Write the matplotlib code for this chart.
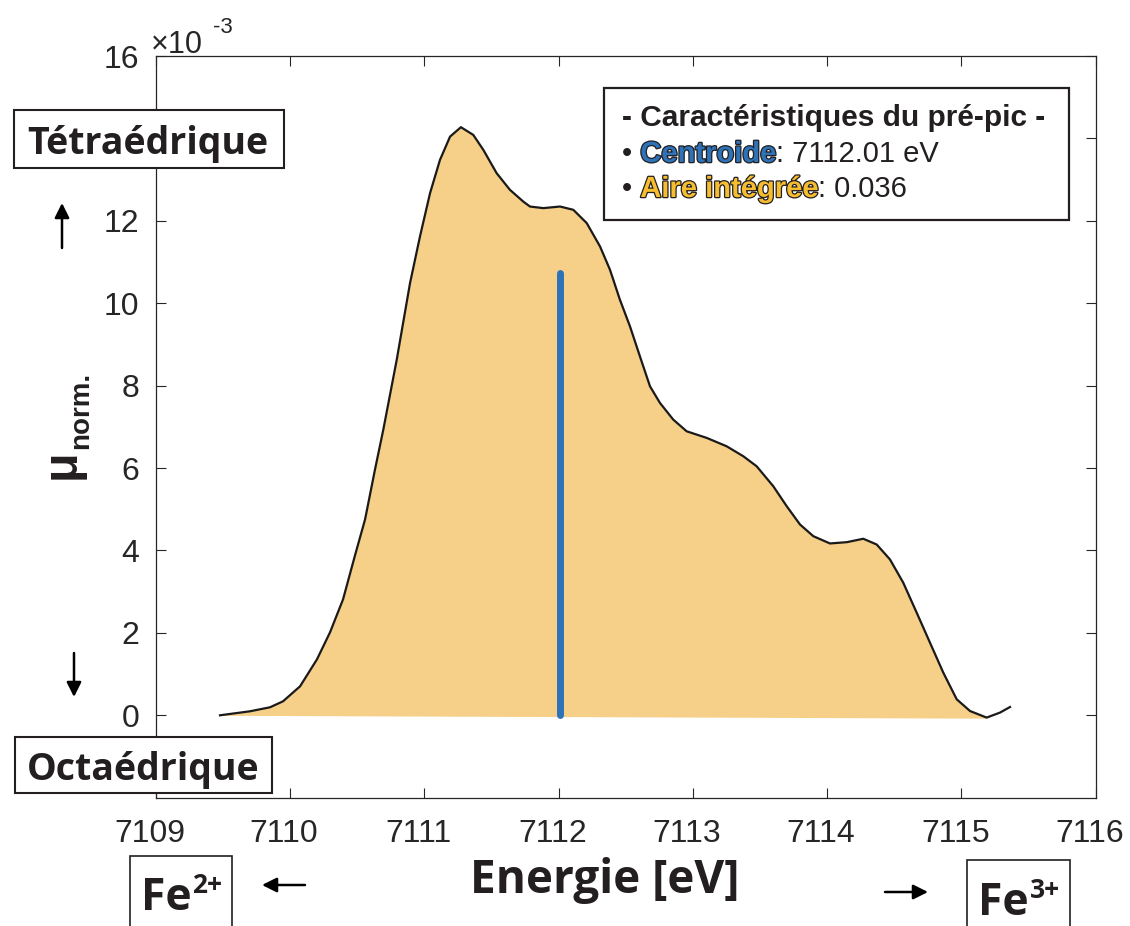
import numpy as np
import matplotlib.pyplot as plt
import matplotlib.patheffects as pe
import matplotlib.transforms as mtransforms
from matplotlib.patches import Rectangle

# pré-pic, mu en unités de 1e-3
energie = [7109.479, 7109.702, 7109.851, 7109.948, 7110.075, 7110.201, 7110.298,
           7110.395, 7110.484, 7110.559, 7110.633, 7110.695, 7110.795, 7110.894,
           7110.968, 7111.043, 7111.117, 7111.192, 7111.273, 7111.365, 7111.440,
           7111.539, 7111.638, 7111.737, 7111.787, 7111.886, 7112.011, 7112.110,
           7112.210, 7112.309, 7112.383, 7112.457, 7112.532, 7112.606, 7112.681,
           7112.755, 7112.854, 7112.954, 7113.103, 7113.252, 7113.376, 7113.475,
           7113.599, 7113.699, 7113.798, 7113.897, 7114.021, 7114.146, 7114.269,
           7114.369, 7114.468, 7114.567, 7114.667, 7114.766, 7114.865, 7114.965,
           7115.064, 7115.188, 7115.287, 7115.362]
mu_norm = [0.000, 0.097, 0.194, 0.339, 0.703, 1.358, 2.012, 2.812, 3.879, 4.752,
           5.964, 6.933, 8.630, 10.490, 11.620, 12.672, 13.479, 14.044, 14.272,
           14.085, 13.721, 13.156, 12.752, 12.468, 12.347, 12.308, 12.347, 12.267,
           11.944, 11.377, 10.812, 10.085, 9.438, 8.710, 7.983, 7.581, 7.176,
           6.892, 6.732, 6.528, 6.286, 6.044, 5.559, 5.074, 4.630, 4.347, 4.170,
           4.201, 4.284, 4.145, 3.782, 3.217, 2.490, 1.762, 1.035, 0.388, 0.104,
           -0.056, 0.065, 0.201]
mu_norm = [v * 1e-3 for v in mu_norm]

# ligne de base de l'intégration
base_e = [7109.479, 7115.188]
base_mu = [0.0, -0.07e-3]

centroide = 7112.01
centroide_haut = 10.73e-3
aire = 0.036

x_ticks = [7109, 7110, 7111, 7112, 7113, 7114, 7115, 7116]
y_ticks = [0, 2e-3, 4e-3, 6e-3, 8e-3, 10e-3, 12e-3, 14e-3, 16e-3]

NOIR = '#231f20'
W, H = 1130, 926
fig = plt.figure(figsize=(W / 100, H / 100), dpi=100)
ax = fig.add_axes([155.7 / W, 1 - 797.7 / H, 940 / W, (797.7 - 56) / H])

e = np.array(energie)
m = np.array(mu_norm)
base = np.interp(e, base_e, base_mu)
ax.fill_between(e, m, base, where=e <= base_e[1], interpolate=True,
                color='#F6CF88', lw=0)
ax.plot(e, m, color='#1a1a1a', lw=1.6, solid_joinstyle='round')
ax.plot([centroide, centroide], [0, centroide_haut], color='#2E72B8', lw=5,
        solid_capstyle='round')

ax.set_xlim(7109, 7116)
ax.set_ylim(-2e-3, 16e-3)
ax.set_xticks(x_ticks)
ax.set_yticks(y_ticks)
ax.set_xticklabels([str(t) for t in x_ticks])
ax.set_yticklabels([f'{t * 1e3:g}' for t in y_ticks])
ax.tick_params(direction='in', length=7, width=0.8, color='#262626',
               labelsize=23, top=True, right=True, labelcolor='#262626')
ax.tick_params(axis='x', pad=15)
ax.tick_params(axis='y', pad=12)
decal = mtransforms.ScaledTranslation(-6 / 100, 0, fig.dpi_scale_trans)
for lab in ax.get_xticklabels():
    lab.set_family('Liberation Sans')
    lab.set_transform(lab.get_transform() + decal)
for lab in ax.get_yticklabels():
    lab.set_family('Liberation Sans')
for s in ax.spines.values():
    s.set_color('#262626')
    s.set_linewidth(0.9)


def fx(px):
    return px / W


def fy(py):
    return 1 - py / H


def cadre(x0, y0, x1, y1, lw=1.5):
    fig.add_artist(Rectangle((fx(x0), fy(y1)), (x1 - x0) / W, (y1 - y0) / H,
                             transform=fig.transFigure, fc='white', ec=NOIR,
                             lw=lw, zorder=2))


# facteur d'échelle
fig.text(fx(151), fy(53), '×10', family='Liberation Sans', fontsize=22,
         color='#262626', va='baseline', ha='left')
fig.text(fx(213), fy(33), '-3', family='Liberation Sans', fontsize=16,
         color='#262626', va='baseline', ha='left')

# étiquettes des axes
fig.text(fx(605), fy(880), 'Energie [eV]', family='Open Sans', weight='bold',
         fontsize=33, color=NOIR, ha='center', va='center')
fig.text(fx(62), fy(464), 'μ', family='Liberation Sans', weight='bold',
         fontsize=35, rotation=90, ha='center', va='center', color=NOIR)
fig.text(fx(81), fy(410), 'norm.', family='Liberation Sans', weight='bold',
         fontsize=20, rotation=90, ha='center', va='center', color=NOIR)

cadre(14, 110, 284, 168)
fig.text(fx(148), fy(154), 'Tétraédrique', family='Open Sans', weight='bold',
         fontsize=27, ha='center', va='baseline', color=NOIR, zorder=3)
cadre(15, 737, 272, 793)
fig.text(fx(143), fy(780), 'Octaédrique', family='Open Sans', weight='bold',
         fontsize=27, ha='center', va='baseline', color=NOIR, zorder=3)

cadre(130, 856, 232, 940, lw=1.2)
fig.text(fx(141), fy(910), 'Fe', family='Open Sans', weight='bold',
         fontsize=32, ha='left', va='baseline', color=NOIR, zorder=3)
fig.text(fx(192), fy(893), '2+', family='Open Sans', weight='bold',
         fontsize=19, ha='left', va='baseline', color=NOIR, zorder=3)
cadre(967, 860, 1070, 940, lw=1.2)
fig.text(fx(978), fy(915), 'Fe', family='Open Sans', weight='bold',
         fontsize=32, ha='left', va='baseline', color=NOIR, zorder=3)
fig.text(fx(1030), fy(898), '3+', family='Open Sans', weight='bold',
         fontsize=19, ha='left', va='baseline', color=NOIR, zorder=3)

arrow = dict(arrowstyle='-|>', color='black', lw=1.8, mutation_scale=22,
             shrinkA=0, shrinkB=0)
for (x0, y0), (x1, y1) in [((62, 248), (62, 203)), ((74, 653), (74, 697)),
                           ((305, 885), (262, 885)), ((885, 892), (928, 892))]:
    fig.add_artist(plt.Annotation('', xy=(fx(x1), fy(y1)), xytext=(fx(x0), fy(y0)),
                                  xycoords='figure fraction',
                                  textcoords='figure fraction', arrowprops=arrow))

# encadré des caractéristiques
cadre(604, 88, 1069, 220, lw=1.6)
fig.text(fx(622), fy(118), '- Caractéristiques du pré-pic -',
         family='Liberation Sans', weight='bold', fontsize=21.5, color=NOIR,
         ha='left', va='center', zorder=3)

fig.canvas.draw()
renderer = fig.canvas.get_renderer()


def ligne(y, mot, couleur, suite):
    x = fx(622)
    parts = [('• ', dict(color=NOIR)),
             (mot, dict(color=couleur, weight='bold',
                        path_effects=[pe.withStroke(linewidth=1.8,
                                                    foreground=NOIR)])),
             (suite, dict(color=NOIR))]
    for txt, kw in parts:
        t = fig.text(x, fy(y), txt, family='Liberation Sans', fontsize=21,
                     ha='left', va='center', zorder=3, **kw)
        bb = t.get_window_extent(renderer)
        x += bb.width / W


ligne(154, 'Centroide', '#2E72B8', f': {centroide:.2f} eV')
ligne(189, 'Aire intégrée', '#F5BD2F', f': {aire:.3f}')

fig.savefig('out.png', dpi=100)
